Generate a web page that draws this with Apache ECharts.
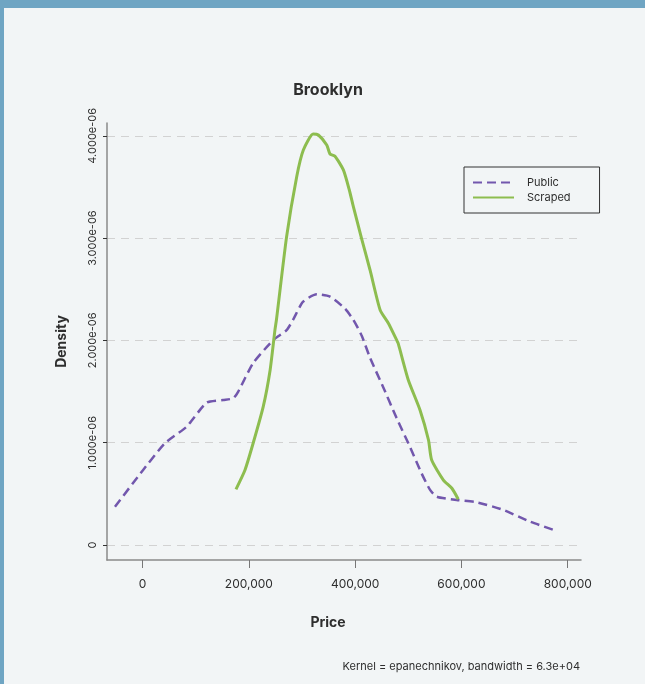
<!DOCTYPE html>
<html><head><meta charset="utf-8">
<script src="https://cdn.jsdelivr.net/npm/echarts@6/dist/echarts.min.js"></script>
<style>
html,body{margin:0;padding:0;background:#6fa5c3;width:645px;height:684px;overflow:hidden}
#chart{position:absolute;left:4px;top:8px;width:641px;height:676px;}
</style></head><body><div id="chart"></div>
<script>
const titleText = 'Brooklyn';
const captionText = 'Kernel = epanechnikov, bandwidth = 6.3e+04';
const xAxisName = 'Price';
const yAxisName = 'Density';
const seriesNames = ['Public', 'Scraped'];

// Price (USD) and density (in units of 1e-6)
const publicPrice = [-52000, 1000, 42000, 83000, 120500, 151600, 170600, 180000, 208000, 246000, 271000, 283600, 302000, 327700, 352700, 381000, 396600, 412000, 428000, 453000, 478000, 503000, 525000, 541000, 553700, 591000, 629000, 679000, 729000, 779600];
const publicDensity = [0.374, 0.733, 0.994, 1.157, 1.391, 1.417, 1.434, 1.50, 1.777, 2.004, 2.10, 2.206, 2.378, 2.45, 2.427, 2.31, 2.20, 2.05, 1.83, 1.54, 1.24, 0.961, 0.70, 0.538, 0.472, 0.44, 0.417, 0.342, 0.228, 0.137];

const scrapedPrice = [175700, 192700, 208000, 227000, 240000, 249000, 252000, 271000, 290000, 302500, 321000, 330800, 346500, 352700, 362000, 377800, 389000, 396600, 412000, 428000, 447000, 462500, 478000, 481000, 500000, 522000, 538000, 544000, 566000, 582000, 594000];
const scrapedDensity = [0.544, 0.733, 0.994, 1.352, 1.711, 2.10, 2.206, 3.014, 3.60, 3.861, 4.018, 4.008, 3.91, 3.822, 3.80, 3.666, 3.47, 3.307, 2.998, 2.688, 2.297, 2.167, 2.004, 1.97, 1.613, 1.32, 1.026, 0.83, 0.635, 0.554, 0.447];

const xTickValues = [0, 200000, 400000, 600000, 800000];
const xTickLabels = ['0', '200,000', '400,000', '600,000', '800,000'];
const yTickValues = [0, 1e-6, 2e-6, 3e-6, 4e-6];
const yTickLabels = ['0', '1.000e-06', '2.000e-06', '3.000e-06', '4.000e-06'];

function pair(xs, ys) { return xs.map((x, i) => [x, ys[i] * 1e-6]); }
function labelFor(values, labels, v) {
  for (let i = 0; i < values.length; i++) {
    if (Math.abs(values[i] - v) <= Math.abs(values[values.length - 1]) * 1e-6) return labels[i];
  }
  return '';
}

const FONT = 'Inter, "Noto Sans", sans-serif';
const TXT = '#2e2e2e';

const chart = echarts.init(document.getElementById('chart'));
chart.setOption({
  backgroundColor: '#f2f5f6',
  animation: false,
  title: [
    { text: titleText, left: 324, top: 74, textAlign: 'center', padding: 0,
      textStyle: { fontFamily: FONT, fontSize: 16, fontWeight: 'bold', color: TXT } },
    { text: captionText, right: 65, top: 653, padding: 0,
      textStyle: { fontFamily: FONT, fontSize: 11, fontWeight: 'normal', color: TXT } }
  ],
  legend: {
    orient: 'vertical', left: 460, top: 159,
    padding: [10, 29, 10, 8],
    itemWidth: 41, itemHeight: 10, itemGap: 4,
    borderColor: '#333', borderWidth: 1,
    itemStyle: { opacity: 0 },
    textStyle: { fontFamily: FONT, fontSize: 11, color: TXT, padding: [0, 0, 0, 8] },
    data: seriesNames
  },
  grid: { left: 103, right: 64, top: 115, bottom: 124, containLabel: false },
  xAxis: {
    type: 'value', min: -67000, max: 825000,
    name: xAxisName, nameLocation: 'middle', nameGap: 56,
    nameTextStyle: { fontFamily: FONT, fontSize: 14, fontWeight: 'bold', color: TXT, padding: [0, 32, 0, 0] },
    axisLine: { show: true, onZero: false, lineStyle: { color: '#8a8a8a', width: 1.5 } },
    axisTick: { show: true, length: 8, customValues: xTickValues, lineStyle: { color: '#777' } },
    axisLabel: { customValues: xTickValues, margin: 18, fontFamily: FONT, fontSize: 12, color: TXT,
      formatter: v => labelFor(xTickValues, xTickLabels, v) },
    splitLine: { show: false }
  },
  yAxis: {
    type: 'value', min: -0.147e-6, max: 4.125e-6,
    name: yAxisName, nameLocation: 'middle', nameGap: 38,
    nameTextStyle: { fontFamily: FONT, fontSize: 14, fontWeight: 'bold', color: TXT },
    axisLine: { show: true, onZero: false, lineStyle: { color: '#8a8a8a', width: 1.5 } },
    axisTick: { show: true, length: 4, customValues: yTickValues, lineStyle: { color: '#333' } },
    axisLabel: { customValues: yTickValues, rotate: 90, margin: 9, fontFamily: FONT, fontSize: 11, color: TXT,
      formatter: v => labelFor(yTickValues, yTickLabels, v) },
    splitLine: { show: true, lineStyle: { color: '#d2d2d2', width: 1, type: [8, 6] } }
  },
  series: [
    { name: seriesNames[0], type: 'line', data: pair(publicPrice, publicDensity),
      symbol: 'none', smooth: 0.2, clip: false,
      lineStyle: { color: '#7257ad', width: 2.5, type: [9, 5] }, itemStyle: { color: '#7257ad' } },
    { name: seriesNames[1], type: 'line', data: pair(scrapedPrice, scrapedDensity),
      symbol: 'none', smooth: 0.2, clip: false,
      lineStyle: { color: '#8dbd4f', width: 3 }, itemStyle: { color: '#8dbd4f' } }
  ]
});
</script></body></html>
